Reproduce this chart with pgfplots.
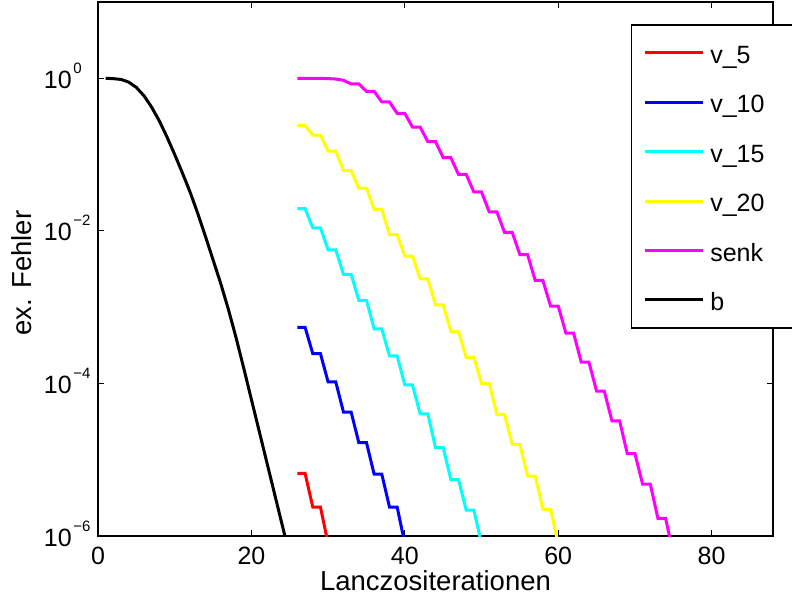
\documentclass[border=0pt]{standalone}
\usepackage{fontspec}
\setmainfont{Liberation Sans}
\usepackage{pgfplots}
\pgfplotsset{compat=1.18}

\definecolor{mred}{rgb}{1,0,0}
\definecolor{mblue}{rgb}{0,0,1}
\definecolor{mcyan}{rgb}{0,1,1}
\definecolor{myellow}{rgb}{1,1,0}
\definecolor{mmagenta}{rgb}{1,0,1}

% MATLAB-style labels: the base "10" is aligned, the exponent hangs off to the right
\newcommand{\ex}[1]{10\rlap{\hspace{1.5pt}\raisebox{15pt}{\fontsize{15}{15}\selectfont #1}}}

\begin{document}
\fontsize{25}{30}\selectfont
\begin{tikzpicture}
\begin{semilogyaxis}[
    scale only axis, width=675pt, height=534pt,
    at={(0pt,0pt)}, anchor=south west,
    xmin=0, xmax=88, ymin=1e-6, ymax=10,
    xtick={0,20,40,60,80}, xticklabels={0,20,40,60,80},
    ytick={1e-6,1e-4,1e-2,1},
    yticklabels={\ex{−6},\ex{−4},\ex{−2},\ex{0}},
    minor tick num=0, yminorticks=false,
    tick align=inside, major tick length=6pt,
    every tick/.style={black, line width=0.9pt},
    axis line style={line width=1.3pt},
    xticklabel style={anchor=north, inner sep=0pt, yshift=-11pt},
    yticklabel style={anchor=base east, inner sep=0pt, xshift=-26pt, yshift=-10pt},
    xlabel={Lanczositerationen}, ylabel={ex. Fehler},
    label style={font=\fontsize{27.5}{32}\selectfont},
    xlabel style={at={(axis description cs:0.5,0)}, anchor=base, yshift=-54.7pt},
    ylabel style={at={(axis description cs:-0.0982,0.4925)}, anchor=base},
    legend cell align=left,
    legend image code/.code={\draw[#1] (0pt,0pt) -- (58pt,0pt);},
    legend style={at={(axis description cs:0.7896,0.9582)}, anchor=north west,
        draw=black, line width=1.3pt, fill=white,
        inner xsep=11.7pt, inner ysep=16.5pt, row sep=26.4pt, column sep=6pt,
        nodes={inner sep=0pt, text height=22pt, text depth=1pt},
        font=\fontsize{25}{30}\selectfont},
]
\addplot[mred, line width=3pt] coordinates {
    (26,6.607e-6)(27,6.607e-6)(28,2.399e-6)(29,2.399e-6)(30,7.943e-7)
};
\addlegendentry{\makebox[80pt][l]{v\_5}}
\addplot[mblue, line width=3pt] coordinates {
    (26,5.445e-4)(27,5.445e-4)(28,2.455e-4)(29,2.455e-4)(30,1.047e-4)(31,1.047e-4)
    (32,4.217e-5)(33,4.217e-5)(34,1.679e-5)(35,1.679e-5)(36,6.457e-6)(37,6.457e-6)
    (38,2.399e-6)(39,2.399e-6)(40,7.943e-7)
};
\addlegendentry{v\_10}
\addplot[mcyan, line width=3pt] coordinates {
    (26,1.950e-2)(27,1.950e-2)(28,1.096e-2)(29,1.096e-2)(30,5.623e-3)(31,5.623e-3)
    (32,2.692e-3)(33,2.692e-3)(34,1.230e-3)(35,1.230e-3)(36,5.188e-4)(37,5.188e-4)
    (38,2.291e-4)(39,2.291e-4)(40,9.550e-5)(41,9.550e-5)(42,3.981e-5)(43,3.981e-5)
    (44,1.445e-5)(45,1.445e-5)(46,5.495e-6)(47,5.495e-6)(48,2.188e-6)(49,2.188e-6)
    (50,7.943e-7)
};
\addlegendentry{v\_15}
\addplot[myellow, line width=3pt] coordinates {
    (26,0.2399)(27,0.2399)(28,0.1799)(29,0.1799)(30,0.1109)(31,0.1109)
    (32,6.166e-2)(33,6.166e-2)(34,3.631e-2)(35,3.631e-2)(36,1.905e-2)(37,1.905e-2)
    (38,8.913e-3)(39,8.913e-3)(40,4.677e-3)(41,4.677e-3)(42,2.344e-3)(43,2.344e-3)
    (44,1.072e-3)(45,1.072e-3)(46,4.786e-4)(47,4.786e-4)(48,2.188e-4)(49,2.188e-4)
    (50,1.0e-4)(51,1.0e-4)(52,3.936e-5)(53,3.936e-5)(54,1.585e-5)(55,1.585e-5)
    (56,6.095e-6)(57,6.095e-6)(58,2.239e-6)(59,2.239e-6)(60,7.943e-7)
};
\addlegendentry{v\_20}
\addplot[mmagenta, line width=3pt] coordinates {
    (26,1.0)(27,1.0)(28,1.0)(29,0.998)(30,0.99)(31,0.9772)(32,0.9419)
    (33,0.8433)(34,0.8433)(35,0.6761)(36,0.6761)(37,0.4898)(38,0.4898)
    (39,0.3467)(40,0.3467)(41,0.2291)(42,0.2291)(43,0.1479)(44,0.1479)
    (45,9.120e-2)(46,9.120e-2)(47,5.495e-2)(48,5.495e-2)(49,3.236e-2)(50,3.236e-2)
    (51,1.778e-2)(52,1.778e-2)(53,9.550e-3)(54,9.550e-3)(55,4.898e-3)(56,4.898e-3)
    (57,2.239e-3)(58,2.239e-3)(59,1.035e-3)(60,1.035e-3)(61,4.571e-4)(62,4.571e-4)
    (63,1.905e-4)(64,1.905e-4)(65,7.943e-5)(66,7.943e-5)(67,3.236e-5)(68,3.236e-5)
    (69,1.202e-5)(70,1.202e-5)(71,4.786e-6)(72,4.786e-6)(73,1.698e-6)(74,1.698e-6)
    (75,5.888e-7)
};
\addlegendentry{senk}
\addplot[black, line width=3pt] coordinates {
    (1,1.0)(2,0.9886)(3,0.9661)(4,0.8913)(5,0.7586)(6,0.5888)(7,0.4169)
    (8,0.2754)(9,0.1698)(10,0.1)(11,5.754e-2)(12,3.236e-2)(13,1.698e-2)
    (14,8.511e-3)(15,4.169e-3)(16,2.042e-3)(17,9.333e-4)(18,3.981e-4)
    (19,1.585e-4)(20,6.166e-5)(21,2.399e-5)(22,9.333e-6)(23,3.631e-6)
    (24,1.413e-6)(25,5.495e-7)
};
\addlegendentry{b}
\end{semilogyaxis}
\pgfresetboundingbox
\path[use as bounding box] (-98pt,-65pt) rectangle (694pt,536pt);
\end{tikzpicture}
\end{document}
